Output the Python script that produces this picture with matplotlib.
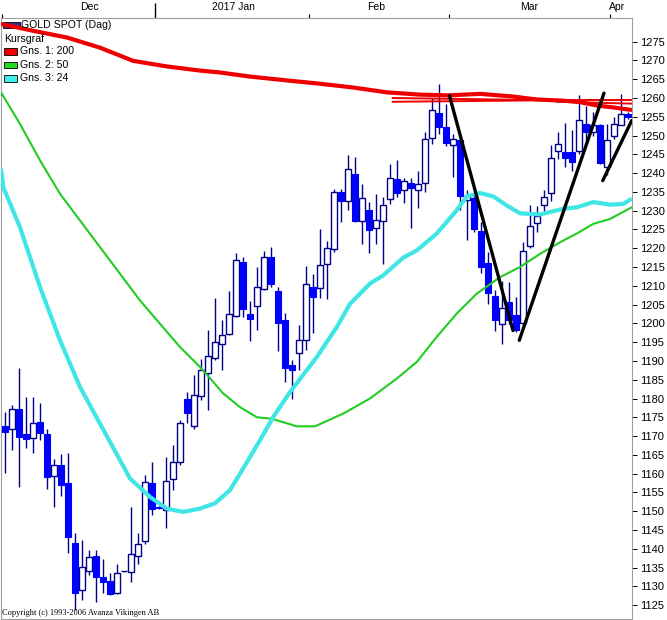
import numpy as np
import matplotlib
matplotlib.use('Agg')
import matplotlib.pyplot as plt
from matplotlib.patches import Rectangle
from matplotlib.transforms import blended_transform_factory

plt.rcParams['font.family'] = ['Liberation Sans', 'DejaVu Sans']

# daily candles, GOLD SPOT, Dec 2016 - Apr 2017
opens = [1172.6, 1171.8, 1177.1, 1170.5, 1169.4, 1173.7, 1170.5, 1159.5, 1162.2, 1157.6,
         1141.4, 1128.9, 1134.0, 1138.1, 1132.5, 1131.5, 1128.1, 1134.0, 1133.7, 1138.1,
         1142.1, 1157.6, 1151.0, 1150.3, 1158.7, 1163.2, 1180.0, 1172.6, 1180.6, 1186.8,
         1190.9, 1194.4, 1197.3, 1202.0, 1216.4, 1202.6, 1204.7, 1209.1, 1217.8, 1208.5,
         1200.8, 1188.8, 1192.1, 1195.7, 1209.8, 1209.5, 1215.9, 1219.8, 1234.9, 1232.7,
         1239.8, 1227.2, 1230.1, 1225.4, 1227.2, 1233.2, 1238.5, 1235.4, 1237.3, 1235.5,
         1237.3, 1249.3, 1256.0, 1252.4, 1247.6, 1248.7, 1232.9, 1233.4, 1224.7, 1216.1,
         1207.3, 1199.9, 1205.8, 1202.1, 1200.2, 1220.6, 1226.6, 1231.6, 1234.6, 1245.8,
         1245.7, 1245.6, 1245.8, 1253.1, 1250.9, 1252.7, 1241.7, 1250.0, 1252.8, 1255.8]
highs = [1176.5, 1178.2, 1188.0, 1180.4, 1180.4, 1178.7, 1172.0, 1164.0, 1165.1, 1165.4,
         1144.3, 1142.3, 1139.7, 1139.8, 1137.2, 1133.5, 1135.9, 1134.2, 1151.2, 1144.1,
         1159.6, 1163.1, 1151.3, 1164.3, 1167.6, 1174.2, 1181.8, 1186.2, 1190.6, 1198.3,
         1206.8, 1201.0, 1208.5, 1218.7, 1217.6, 1205.9, 1215.0, 1219.4, 1220.3, 1209.8,
         1202.7, 1190.2, 1199.5, 1215.2, 1213.2, 1225.2, 1221.8, 1235.8, 1235.8, 1244.7,
         1244.4, 1237.1, 1232.3, 1234.5, 1233.6, 1242.3, 1243.5, 1238.7, 1238.7, 1240.7,
         1250.9, 1260.0, 1263.6, 1258.4, 1250.4, 1250.4, 1235.4, 1234.3, 1227.0, 1219.0,
         1208.8, 1211.3, 1211.0, 1207.0, 1221.6, 1231.5, 1231.2, 1235.4, 1247.4, 1250.9,
         1253.3, 1251.5, 1260.9, 1258.0, 1256.2, 1253.1, 1253.1, 1254.9, 1261.1, 1256.2]
lows = [1160.1, 1166.4, 1156.5, 1166.7, 1165.6, 1168.9, 1155.8, 1151.2, 1154.0, 1138.8,
        1123.7, 1126.4, 1133.0, 1125.7, 1128.1, 1127.7, 1128.0, 1133.8, 1131.2, 1135.9,
        1141.3, 1148.9, 1150.6, 1145.4, 1155.6, 1162.3, 1173.4, 1172.0, 1179.7, 1176.9,
        1190.2, 1187.5, 1196.8, 1201.7, 1201.7, 1195.3, 1198.3, 1208.8, 1209.7, 1192.6,
        1184.3, 1180.0, 1187.5, 1193.0, 1197.4, 1206.8, 1206.6, 1219.0, 1227.0, 1230.1,
        1227.0, 1221.2, 1218.7, 1221.2, 1215.9, 1231.8, 1233.6, 1232.1, 1225.4, 1230.8,
        1234.9, 1247.8, 1250.4, 1247.1, 1238.9, 1230.1, 1222.2, 1224.3, 1213.4, 1205.2,
        1198.1, 1194.4, 1199.9, 1197.7, 1199.5, 1220.0, 1224.3, 1230.0, 1232.7, 1243.8,
        1241.6, 1240.5, 1245.1, 1247.8, 1250.0, 1242.5, 1239.4, 1249.1, 1252.7, 1254.4]
closes = [1171.1, 1177.1, 1169.8, 1169.3, 1173.4, 1170.7, 1159.0, 1162.2, 1157.0, 1143.0,
          1128.1, 1135.1, 1137.7, 1132.4, 1131.2, 1128.0, 1133.5, 1134.0, 1138.5, 1141.3,
          1157.9, 1150.7, 1150.8, 1158.1, 1163.0, 1173.4, 1176.2, 1180.9, 1187.5, 1191.4,
          1195.1, 1197.0, 1202.4, 1217.0, 1203.9, 1201.2, 1209.8, 1217.8, 1210.4, 1200.1,
          1188.0, 1187.5, 1195.5, 1210.4, 1207.0, 1215.6, 1220.1, 1235.0, 1232.7, 1241.1,
          1227.2, 1233.4, 1224.9, 1227.6, 1231.6, 1238.7, 1234.8, 1237.8, 1236.1, 1237.1,
          1249.1, 1256.7, 1252.4, 1248.0, 1249.1, 1233.8, 1233.8, 1225.2, 1215.0, 1208.1,
          1201.0, 1204.2, 1200.8, 1198.2, 1219.4, 1225.8, 1228.5, 1233.7, 1244.1, 1247.8,
          1244.1, 1242.9, 1254.2, 1250.9, 1252.8, 1242.6, 1248.7, 1253.1, 1255.8, 1254.9]

# moving averages (x = trading-day index)
ma200_x = [-0.57, 4.0, 8.86, 13.57, 18.29, 23.14, 27.86, 30.71, 35.0, 40.71, 45.0, 49.71,
           54.57, 59.29, 63.29, 67.86, 72.57, 76.0, 79.71, 82.14, 84.57, 86.86, 89.57]
ma200_y = [1279.7, 1277.9, 1276.1, 1273.4, 1269.9, 1268.4, 1267.3, 1266.8, 1265.7, 1264.6,
           1263.8, 1262.8, 1261.5, 1260.9, 1260.7, 1261.1, 1260.4, 1259.6, 1259.3, 1258.9,
           1258.0, 1257.5, 1256.8]
ma50_x = [-0.47, 2.14, 5.0, 7.86, 10.71, 13.57, 16.43, 19.29, 22.14, 25.0, 27.86, 29.29,
          31.14, 33.57, 36.0, 38.14, 41.67, 44.29, 48.33, 52.14, 55.96, 58.81, 61.67, 64.53,
          67.39, 70.71, 73.57, 76.43, 79.29, 81.67, 84.04, 86.43, 89.53]
ma50_y = [1261.2, 1253.1, 1243.4, 1234.5, 1227.4, 1220.3, 1213.2, 1206.1, 1199.9, 1193.7,
          1188.4, 1185.4, 1181.4, 1177.7, 1175.0, 1174.6, 1172.6, 1172.6, 1176.0, 1180.0,
          1185.3, 1189.7, 1196.4, 1202.6, 1207.9, 1212.3, 1215.0, 1218.5, 1221.6, 1223.9,
          1226.5, 1227.8, 1230.9]
ma24_x = [-0.57, -0.24, 2.14, 5.0, 7.86, 10.71, 13.57, 16.43, 17.86, 20.71, 23.1, 25.47,
          27.86, 30.0, 32.14, 34.29, 36.43, 38.33, 40.71, 44.53, 47.39, 49.29, 52.14, 54.04,
          56.9, 58.81, 61.67, 64.53, 65.96, 67.86, 69.76, 71.67, 73.57, 76.43, 79.76, 81.67,
          84.04, 86.43, 88.33, 89.53]
ma24_y = [1241.2, 1236.2, 1225.6, 1209.7, 1195.5, 1183.1, 1173.3, 1163.6, 1158.7, 1153.8,
          1150.7, 1149.8, 1150.7, 1152.1, 1155.6, 1162.2, 1168.9, 1175.1, 1181.7, 1191.0,
          1199.0, 1205.2, 1210.6, 1212.8, 1217.5, 1219.4, 1223.9, 1230.1, 1233.8, 1234.7,
          1233.8, 1231.4, 1229.3, 1229.0, 1230.5, 1230.9, 1232.3, 1231.6, 1231.8, 1233.2]

# user drawn trend lines (start/end index, start/end price)
trend_lines = [((63.5, 72.57), (1260.6, 1198.1)),
               ((73.47, 85.57), (1195.5, 1261.3)),
               ((85.39, 89.53), (1238.0, 1254.0))]
level_lines = [((55.4, 77.9), (1260.0, 1259.4)),
               ((55.4, 77.9), (1259.0, 1259.4)),
               ((78.9, 89.6), (1259.6, 1259.6)),
               ((78.9, 89.6), (1259.0, 1258.5))]

month_ticks = [-0.43, 43.43, 63.43, 86.43]
year_tick = 21.43
month_labels = ['Dec', '2017 Jan', 'Feb', 'Mar', 'Apr']
month_label_x = [12.0, 32.57, 53.0, 74.86, 87.43]

W, H = 667, 620
fig = plt.figure(figsize=(W / 100, H / 100), dpi=100)
ax = fig.add_axes([1 / W, 1 - 619 / H, 631 / W, 601 / H])

wick_col = '#00008b'
fill_col = '#0000ff'
idx = np.arange(len(opens))
o = np.array(opens)
c = np.array(closes)
ax.vlines(idx, lows, highs, color=wick_col, lw=1.0, zorder=2)
up = c >= o
body_lo = np.minimum(o, c)
body_h = np.maximum(np.abs(c - o), 0.15)
ax.bar(idx[up], body_h[up], bottom=body_lo[up], width=0.72,
       facecolor='white', edgecolor=wick_col, lw=1.0, zorder=3)
ax.bar(idx[~up], body_h[~up], bottom=body_lo[~up], width=0.72,
       facecolor=fill_col, edgecolor=fill_col, lw=0.8, zorder=3)

ax.plot(ma50_x, ma50_y, color='#22cc22', lw=1.5, zorder=4)
ax.plot(ma24_x, ma24_y, color='#40e6e6', lw=3.0, zorder=4, solid_capstyle='butt')
ax.plot(ma200_x, ma200_y, color='#ee0000', lw=3.0, zorder=4, solid_capstyle='butt')

for xs, ys in level_lines:
    ax.plot(xs, ys, color='#ee0000', lw=1.4, zorder=5)
for xs, ys in trend_lines:
    ax.plot(xs, ys, color='black', lw=2.4, zorder=6, solid_capstyle='round')

ax.set_xlim(-0.57, 89.57)
ax.set_ylim(1121.3, 1281.3)

for s in ax.spines.values():
    s.set_color('#a0a0a0')
    s.set_linewidth(0.8)

ax.yaxis.tick_right()
ax.set_yticks(np.arange(1125, 1276, 5))
ax.tick_params(axis='y', length=3.6, width=0.7, pad=2, labelsize=8, colors='black')

ax.xaxis.set_ticks_position('top')
ax.set_xticks(month_ticks)
ax.set_xticklabels([])
ax.set_xticks([year_tick], minor=True)
ax.tick_params(axis='x', which='major', length=3.2, width=0.8, color='black')
ax.tick_params(axis='x', which='minor', length=10.5, width=1.0, color='black')

tr = blended_transform_factory(ax.transData, fig.transFigure)
for lab, xm in zip(month_labels, month_label_x):
    ax.text(xm, 1 - 7 / H, lab, transform=tr, ha='center', va='center',
            fontsize=7.5, clip_on=False)


def fx(px):
    return px / W


def fy(py):
    return 1 - py / H


legend = [('#303090', 'GOLD SPOT (Dag)', 22, 28, 3, 20, 21),
          ('#ee0000', 'Gns. 1: 200', 48, 55, 4, 17, 20),
          ('#22dd22', 'Gns. 2: 50', 61.5, 68, 4, 17, 20),
          ('#40eeee', 'Gns. 3: 24', 75, 81.5, 4, 17, 20)]
for col, lab, y0, y1, x0, x1, tx in legend:
    ax.add_patch(Rectangle((fx(x0), fy(y1)), fx(x1) - fx(x0), fy(y0) - fy(y1),
                           transform=fig.transFigure, facecolor=col, edgecolor='black',
                           lw=0.6, zorder=3.5, clip_on=False))
    ax.text(fx(tx), fy((y0 + y1) / 2), lab, transform=fig.transFigure,
            ha='left', va='center', fontsize=7.6, zorder=8)
ax.text(fx(4), fy(39), 'Kursgraf', transform=fig.transFigure,
        ha='left', va='center', fontsize=7.6, zorder=8)

fig.text(fx(2), fy(613), 'Copyright (c) 1993-2006 Avanza Vikingen AB',
         family=['Liberation Serif', 'DejaVu Serif'], fontsize=6,
         ha='left', va='center')

fig.savefig('out.png', dpi=100)
